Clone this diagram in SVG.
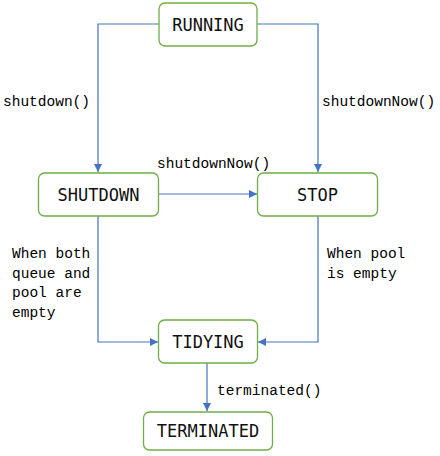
<svg xmlns="http://www.w3.org/2000/svg" width="440" height="456" viewBox="0 0 440 456">
<style>
.node rect{fill:#fff;stroke:#70ad47;stroke-width:1.3}
.node text{font-family:"DejaVu Sans Mono","Liberation Mono",monospace;font-size:17px;fill:#111;text-anchor:middle}
.lbl{font-family:"Liberation Mono","DejaVu Sans Mono",monospace;font-size:14.5px;fill:#000}
.edge{fill:none;stroke:#4472c4;stroke-width:1.2;marker-end:url(#ah)}
</style>
<defs>
<marker id="ah" viewBox="0 0 10 10" refX="10" refY="5" markerWidth="8" markerHeight="8" markerUnits="userSpaceOnUse" orient="auto">
<path d="M0,0 L10,5 L0,10 z" fill="#4472c4"/>
</marker>
</defs>
<rect width="440" height="456" fill="#fff"/>
<g id="connectors">
<path class="edge" d="M159,24 H98 V172"/>
<path class="edge" d="M257,24 H318 V172"/>
<path class="edge" d="M158,194 H257"/>
<path class="edge" d="M98,216 V342 H158"/>
<path class="edge" d="M318,216 V342 H258"/>
<path class="edge" d="M207,363 V411"/>
<text class="lbl" x="3" y="106">shutdown()</text>
<text class="lbl" x="322" y="106">shutdownNow()</text>
<text class="lbl" x="157" y="168">shutdownNow()</text>
<text class="lbl" x="12" y="258">When both</text>
<text class="lbl" x="12" y="277.5">queue and</text>
<text class="lbl" x="12" y="297">pool are</text>
<text class="lbl" x="12" y="316.5">empty</text>
<text class="lbl" x="327" y="258">When pool</text>
<text class="lbl" x="327" y="277.5">is empty</text>
<text class="lbl" x="217" y="395">terminated()</text>
</g>
<g id="running" class="node"><rect x="159" y="3" width="98" height="43" rx="6"/><text x="208" y="30.5">RUNNING</text></g>
<g id="shutdown" class="node"><rect x="38.5" y="173" width="120" height="43" rx="6"/><text x="98.5" y="200.5">SHUTDOWN</text></g>
<g id="stop" class="node"><rect x="257.5" y="173" width="120" height="43" rx="6"/><text x="317.5" y="200.5">STOP</text></g>
<g id="tidying" class="node"><rect x="158.5" y="320" width="99" height="43" rx="6"/><text x="208" y="347.5">TIDYING</text></g>
<g id="terminated" class="node"><rect x="143.5" y="412" width="129" height="38" rx="6"/><text x="208" y="437">TERMINATED</text></g>
</svg>
